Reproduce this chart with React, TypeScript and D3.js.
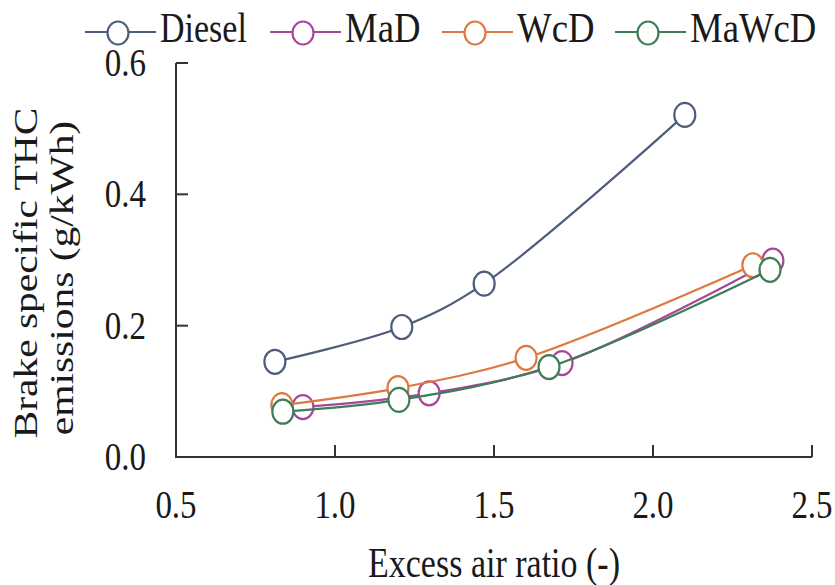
import React from "react";
import * as d3 from "d3";

// Brake specific THC emissions vs excess air ratio, four fuels
const dieselX = [0.811, 1.21, 1.469, 2.1];
const dieselY = [0.145, 0.198, 0.264, 0.521];
const madX = [0.899, 1.296, 1.714, 2.377];
const madY = [0.076, 0.097, 0.143, 0.299];
const wcdX = [0.833, 1.198, 1.601, 2.314];
const wcdY = [0.079, 0.105, 0.151, 0.292];
const mawcdX = [0.836, 1.201, 1.673, 2.368];
const mawcdY = [0.069, 0.087, 0.137, 0.285];

const seriesNames = ["Diesel", "MaD", "WcD", "MaWcD"];
const seriesColors = ["#4f5d7c", "#a8479a", "#dd7940", "#3f7d58"];
const xTicks = [0.5, 1.0, 1.5, 2.0, 2.5];
const yTicks = [0.0, 0.2, 0.4, 0.6];

const W = 835;
const H = 585;
const FONT = "'Liberation Serif', 'Times New Roman', serif";
const SY = 1.22; // vertical stretch of the lettering
const FS = 34;

export default function App() {
  const x = d3.scaleLinear().domain([0.5, 2.5]).range([176, 812]);
  const y = d3.scaleLinear().domain([0, 0.6]).range([457, 63]);

  const series = [
    { name: seriesNames[0], xs: dieselX, ys: dieselY, color: seriesColors[0] },
    { name: seriesNames[1], xs: madX, ys: madY, color: seriesColors[1] },
    { name: seriesNames[2], xs: wcdX, ys: wcdY, color: seriesColors[2] },
    { name: seriesNames[3], xs: mawcdX, ys: mawcdY, color: seriesColors[3] },
  ];

  const line = d3
    .line<[number, number]>()
    .x((d) => x(d[0]))
    .y((d) => y(d[1]))
    .curve(d3.curveCatmullRom.alpha(0.5));

  const legendStarts = [160, 345, 517, 690];
  const textColor = "#1a1a1a";
  const axisColor = "#333";

  const txt = (
    key: string,
    tx: number,
    ty: number,
    s: string,
    anchor: "start" | "middle" | "end",
    size = FS,
    sx = 1
  ) => (
    <text
      key={key}
      transform={`translate(${tx},${ty}) scale(${sx},${SY})`}
      textAnchor={anchor}
      fontFamily={FONT}
      fontSize={size}
      fill={textColor}
    >
      {s}
    </text>
  );

  return (
    <svg
      width={W}
      height={H}
      style={{ position: "absolute", left: 0, top: 0, background: "#fff" }}
    >
      <rect width={W} height={H} fill="#fff" />

      {/* axes */}
      <g stroke={axisColor} strokeWidth={2} fill="none">
        <path d={`M${x(0.5)},${y(0.6)} V${y(0)} H${x(2.5)}`} />
        {yTicks.map((t) => (
          <line key={`yt${t}`} x1={x(0.5)} x2={x(0.5) + 12} y1={y(t)} y2={y(t)} />
        ))}
        {xTicks.map((t) => (
          <line key={`xt${t}`} x1={x(t)} x2={x(t)} y1={y(0)} y2={y(0) - 12} />
        ))}
      </g>

      {/* tick labels */}
      {yTicks.map((t) => txt(`yl${t}`, 146, y(t) + 13, t.toFixed(1), "end", 33))}
      {xTicks.map((t) => txt(`xl${t}`, x(t), 518, t.toFixed(1), "middle", 33))}

      {/* axis titles */}
      {txt("xtitle", x(1.5), 577, "Excess air ratio (-)", "middle")}
      <g fontFamily={FONT} fontSize={FS} fill={textColor} textAnchor="middle">
        <text transform={`translate(37,273) scale(1,${SY}) rotate(-90)`}>
          Brake specific THC
        </text>
        <text transform={`translate(73,278) scale(1,${SY}) rotate(-90)`}>
          emissions (g/kWh)
        </text>
      </g>

      {/* series */}
      {series.map((s) => {
        const pts: [number, number][] = s.xs.map((v, i) => [v, s.ys[i]]);
        return (
          <g key={s.name}>
            <path d={line(pts) ?? ""} fill="none" stroke={s.color} strokeWidth={2.2} />
            {pts.map((p, i) => (
              <ellipse
                key={i}
                cx={x(p[0])}
                cy={y(p[1])}
                rx={10.5}
                ry={12}
                fill="#fff"
                stroke={s.color}
                strokeWidth={2.2}
              />
            ))}
          </g>
        );
      })}

      {/* legend */}
      {series.map((s, i) => {
        const sx = legendStarts[i];
        return (
          <g key={`lg${s.name}`}>
            <line x1={sx - 75} x2={sx - 4} y1={32} y2={32} stroke={s.color} strokeWidth={2.2} />
            <ellipse cx={sx - 42} cy={33} rx={10.5} ry={11.5} fill="#fff" stroke={s.color} strokeWidth={2.2} />
            {txt(`lt${s.name}`, sx, 42, s.name, "start", FS, i === 0 ? 1 : 1.08)}
          </g>
        );
      })}
    </svg>
  );
}
